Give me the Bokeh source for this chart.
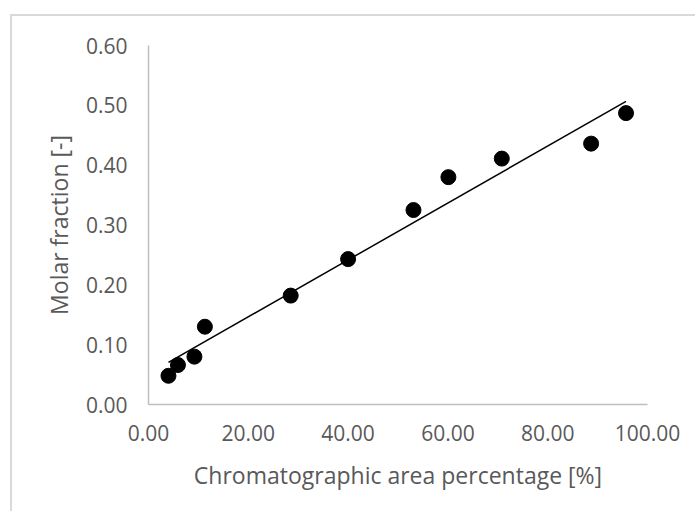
import numpy as np
from bokeh.plotting import figure
from bokeh.models import FixedTicker, NumeralTickFormatter, ColumnDataSource
from bokeh.embed import file_html
from bokeh.resources import INLINE

# Data
area_pct = [4.0, 5.9, 9.2, 11.3, 28.5, 40.0, 53.1, 60.1, 70.8, 88.7, 95.7]
molar_fraction = [0.048, 0.066, 0.080, 0.130, 0.182, 0.243, 0.325, 0.380, 0.411, 0.436, 0.487]
x_ticks = [0, 20, 40, 60, 80, 100]
y_ticks = [0.0, 0.1, 0.2, 0.3, 0.4, 0.5, 0.6]

# Linear trendline (least squares fit of the series)
slope, intercept = np.polyfit(area_pct, molar_fraction, 1)
trend_x = [min(area_pct), max(area_pct)]
trend_y = [slope * v + intercept for v in trend_x]

GRAY_TXT = "#595959"
AXIS_COL = "#BFBFBF"

p = figure(width=685, height=497, x_range=(0, 100), y_range=(0, 0.6),
           output_backend="svg", toolbar_location=None,
           min_border_left=136, min_border_right=50,
           min_border_top=29, min_border_bottom=109)
p.styles = {"margin-left": "10px", "margin-top": "14px",
            "border-left": "2px solid #D9D9D9", "border-top": "2px solid #D9D9D9"}
p.outline_line_color = None
p.grid.grid_line_color = None
p.background_fill_color = "white"
p.border_fill_color = "white"

src = ColumnDataSource(dict(x=area_pct, y=molar_fraction))
p.line(trend_x, trend_y, line_color="black", line_width=1.5)
p.scatter("x", "y", source=src, size=15, fill_color="black", line_color="black")

for ax in (p.xaxis[0], p.yaxis[0]):
    ax.axis_line_color = AXIS_COL
    ax.axis_line_width = 1.5
    ax.major_tick_line_color = None
    ax.minor_tick_line_color = None
    ax.major_label_text_font = "Open Sans"
    ax.major_label_text_font_size = "21px"
    ax.major_label_text_color = GRAY_TXT
    ax.axis_label_text_font = "Open Sans"
    ax.axis_label_text_font_style = "normal"
    ax.axis_label_text_color = GRAY_TXT
    ax.formatter = NumeralTickFormatter(format="0.00")

p.xaxis[0].ticker = FixedTicker(ticks=x_ticks)
p.yaxis[0].ticker = FixedTicker(ticks=y_ticks)
p.xaxis[0].axis_label = "Chromatographic area percentage [%]"
p.yaxis[0].axis_label = "Molar fraction [-]"
p.xaxis[0].axis_label_text_font_size = "23px"
p.yaxis[0].axis_label_text_font_size = "23px"
p.xaxis[0].major_label_standoff = 14
p.yaxis[0].major_label_standoff = 15
p.xaxis[0].axis_label_standoff = 15
p.yaxis[0].axis_label_standoff = 8

open("out.html", "w").write(file_html(p, INLINE))
